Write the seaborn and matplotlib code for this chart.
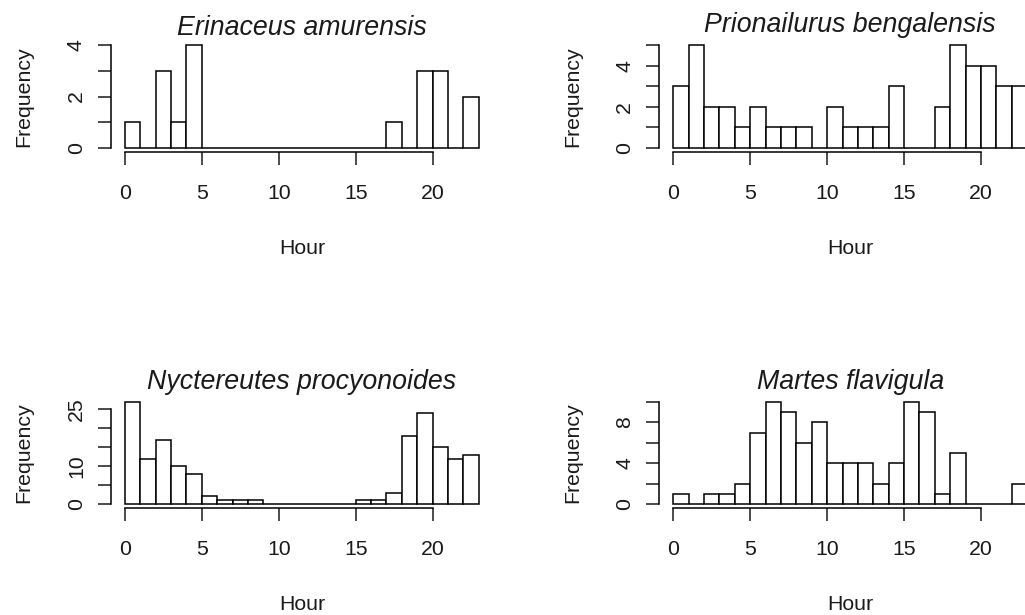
import matplotlib
matplotlib.use('Agg')
import matplotlib.pyplot as plt
import seaborn as sns
import numpy as np

# detections per 1-hour bin (0-1, 1-2, ..., 22-23)
hour_edges = list(range(24))

erinaceus = [1, 0, 3, 1, 4, 0, 0, 0, 0, 0, 0, 0, 0, 0, 0, 0, 0, 1, 0, 3, 3, 0, 2]
prionailurus = [3, 5, 2, 2, 1, 2, 1, 1, 1, 0, 2, 1, 1, 1, 3, 0, 0, 2, 5, 4, 4, 3, 3]
nyctereutes = [27, 12, 17, 10, 8, 2, 1, 1, 1, 0, 0, 0, 0, 0, 0, 1, 1, 3, 18, 24, 15, 12, 13]
martes = [1, 0, 1, 1, 2, 7, 10, 9, 6, 8, 4, 4, 4, 2, 4, 10, 9, 1, 5, 0, 0, 0, 2]

titles = ['Erinaceus amurensis', 'Prionailurus bengalensis',
          'Nyctereutes procyonoides', 'Martes flavigula']
counts = [erinaceus, prionailurus, nyctereutes, martes]

x_ticks = [0, 5, 10, 15, 20]
y_ticks = [[0, 1, 2, 3, 4], [0, 1, 2, 3, 4, 5],
           [0, 5, 10, 15, 20, 25], [0, 2, 4, 6, 8, 10]]
y_ticklabels = [['0', '', '2', '', '4'], ['0', '', '2', '', '4', ''],
                ['0', '', '10', '', '', '25'], ['0', '', '4', '', '8', '']]

plt.rcParams['font.family'] = ['Liberation Sans', 'DejaVu Sans']

W, H = 1025, 615
fig = plt.figure(figsize=(W / 100, H / 100), dpi=100)

# plot regions in pixels (left, top, right, bottom), R mfrow=c(2,2) style
cols = [(110.8, 492.9), (659.1, 1041.3)]
rows = [(41.0, 152.1), (397.8, 508.1)]

centers = np.array(hour_edges[:-1]) + 0.5

for i in range(4):
    l, r = cols[i % 2]
    t, b = rows[i // 2]
    ax = fig.add_axes([l / W, 1 - b / H, (r - l) / W, (b - t) / H])

    sns.histplot(x=centers, weights=counts[i], bins=hour_edges, stat='count',
                 color='white', edgecolor='black', linewidth=1.1, alpha=1,
                 ax=ax)

    ymax = max(counts[i])
    ax.set_xlim(-0.04 * 23, 23 * 1.04)
    ax.set_ylim(-0.04 * ymax, 1.04 * ymax)

    for side in ['top', 'right']:
        ax.spines[side].set_visible(False)
    ax.spines['bottom'].set_bounds(0, 20)
    ax.spines['left'].set_bounds(0, y_ticks[i][-1])
    for side in ['bottom', 'left']:
        ax.spines[side].set_linewidth(1.1)

    ax.set_xticks(x_ticks)
    ax.set_xticklabels([str(v) for v in x_ticks])
    ax.set_yticks(y_ticks[i])
    ax.set_yticklabels(y_ticklabels[i], rotation=90, va='center')
    ax.tick_params(axis='both', direction='out', length=9.4, width=1.1,
                   labelsize=15.3, colors='#1a1a1a')
    ax.tick_params(axis='x', pad=13.7)
    ax.tick_params(axis='y', pad=8.5)

    ax.set_xlabel('Hour', fontsize=15.3, labelpad=25.5, color='#1a1a1a')
    ax.set_ylabel('Frequency', fontsize=15.3, labelpad=24, color='#1a1a1a')

    # R centres expression titles on their ink box, so titles with
    # descenders sit a little higher
    has_desc = any(c in 'gjpqy' for c in titles[i])
    ax.set_title(titles[i], fontsize=19.3, fontstyle='italic',
                 color='#1a1a1a', pad=6.5 if has_desc else 3.0)

fig.savefig('out.png', dpi=100)
